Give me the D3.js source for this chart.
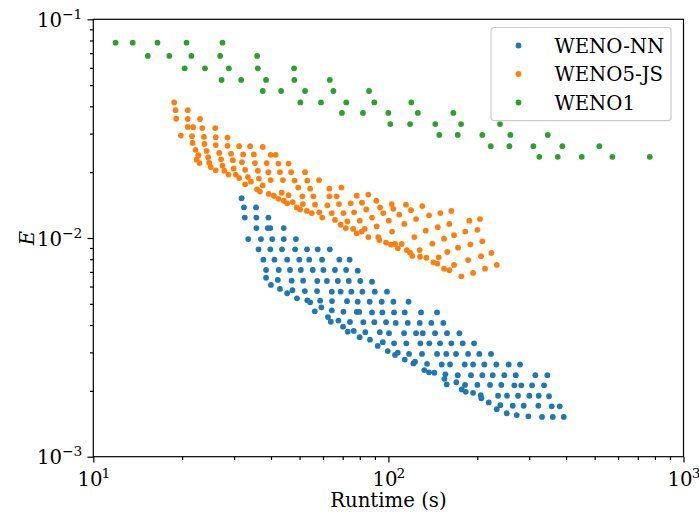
<!DOCTYPE html>
<html>
<head>
<meta charset="utf-8">
<script src="https://cdn.jsdelivr.net/npm/d3@7"></script>
<style>
  body { margin: 0; background: #fff; }
  text { font-family: "DejaVu Serif", serif; fill: #000; }
</style>
</head>
<body>
<div id="canvas"></div>
<script>
// [runtime (s), error E]
const wenoNN = [
  [31.8,0.0152],[32.4,0.0138],[35.6,0.0138],[32.6,0.0124],[35.7,0.0124],[39.2,0.0124],
  [35.7,0.0111],[39.0,0.0111],[39.8,0.0111],[44.2,0.0111],
  [33.5,0.00989],[37.0,0.00989],[40.4,0.00989],[44.2,0.00989],[48.6,0.00989],
  [36.3,0.00888],[39.8,0.00888],[43.6,0.00888],[48.3,0.00888],[53.0,0.00888],[57.6,0.00888],[63.3,0.00888],
  [37.7,0.00796],[41.1,0.00796],[45.4,0.00796],[49.9,0.00796],[53.9,0.00796],[59.6,0.00796],[68.2,0.00796],[73.9,0.00796],
  [38.5,0.00714],[42.5,0.00714],[46.4,0.00714],[50.5,0.00714],[55.4,0.00714],[60.2,0.00714],[65.9,0.00714],[71.9,0.00714],[78.7,0.00709],
  [38.5,0.00658],[42.2,0.00643],
  [47.0,0.00638],[51.4,0.00638],[57.4,0.00636],[61.9,0.00636],[67.4,0.00636],[73.4,0.00636],[80.3,0.00636],[88.0,0.00631],
  [40.0,0.00610],[42.9,0.00585],[45.4,0.00559],[47.3,0.00577],
  [52.1,0.00572],[57.3,0.00572],[64.3,0.00568],[68.9,0.00568],[74.9,0.00568],[81.6,0.00568],[89.9,0.00568],
  [49.0,0.00530],[53.1,0.00519],[54.3,0.00508],[58.7,0.00517],[64.4,0.00515],[72.4,0.00514],[78.7,0.00511],[86.4,0.00511],[94.9,0.00511],
  [56.3,0.00462],[59.3,0.00482],[64.3,0.00467],[70.4,0.00460],[78.1,0.00459],[79.7,0.00459],[88.0,0.00457],[95.4,0.00457],
  [62.4,0.00435],[63.8,0.00414],[67.7,0.00419],[74.1,0.00413],[82.2,0.00412],[89.6,0.00412],[98.2,0.00412],
  [70.2,0.00393],[72.8,0.00373],[76.3,0.00376],[83.5,0.00371],[93.5,0.00371],
  [79.9,0.00352],[86.6,0.00343],[95.7,0.00334],[92.0,0.00321],
  [98.9,0.00568],[104,0.00511],[117,0.00511],
  [104.5,0.00457],[113.6,0.00457],[129.0,0.00457],[146.2,0.00457],
  [105.9,0.00409],[116.3,0.00409],[127.7,0.00409],[139.8,0.00409],[153.5,0.00409],
  [100.5,0.00367],[113.0,0.00367],[124.1,0.00367],[130.7,0.00367],[143.9,0.00367],[158.0,0.00367],[174.0,0.00367],
  [104.5,0.00330],[115.0,0.00330],[128.3,0.00330],[137.6,0.00330],[149.6,0.00330],[163.4,0.00330],[178.6,0.00330],[195.1,0.00330],
  [99.5,0.00304],[105.3,0.00292],[107.6,0.00299],
  [117.5,0.00295],[130.0,0.00295],[146.2,0.00295],[157.1,0.00295],[169.5,0.00295],[186.2,0.00295],[203.3,0.00295],[222.7,0.00295],
  [113.6,0.00278],[121.5,0.00267],[123.1,0.00272],[135.2,0.00266],
  [151.6,0.00264],[161.8,0.00264],[181.4,0.00264],[193.6,0.00264],[211.4,0.00264],[232.2,0.00264],[255.7,0.00264],[279.3,0.00264],
  [132.3,0.00249],[137.3,0.00243],[143.1,0.00242],[156.0,0.00238],
  [171.8,0.00236],[190.5,0.00236],[208.1,0.00236],[225.7,0.00236],[247.1,0.00236],[270.1,0.00236],[314.8,0.00236],[345.6,0.00236],
  [154.8,0.00227],[157.6,0.00214],[169.9,0.00219],[181.8,0.00213],[177.2,0.00203],[182.8,0.00198],[193.6,0.00196],
  [200.2,0.00213],[221.0,0.00213],[241.3,0.00213],[267.2,0.00212],[282.1,0.00212],[306.8,0.00212],[336.9,0.00212],
  [205.6,0.00191],[206.5,0.00185],[218.8,0.00177],
  [235.3,0.00190],[252.4,0.00190],[275.0,0.00190],[300.4,0.00190],[323.2,0.00190],[350.2,0.00189],
  [232.9,0.00165],[239.5,0.00172],
  [263.8,0.00171],[287.4,0.00171],[322.2,0.00171],[357.6,0.00170],[380.7,0.00170],
  [251.8,0.00158],[272.2,0.00155],[298.0,0.00153],[331.6,0.00152],[360.6,0.00152],[392.8,0.00152]
];

const weno5JS = [
  [18.8,0.0417],[19.0,0.0384],[20.9,0.0384],[19.1,0.0351],[20.9,0.0350],[23.0,0.0350],
  [20.9,0.0322],[21.8,0.0321],[23.4,0.0318],[25.9,0.0318],
  [19.8,0.0294],[21.6,0.0292],[23.7,0.0290],[26.0,0.0289],[28.5,0.0288],
  [21.7,0.0272],[23.8,0.0269],[26.0,0.0266],[28.5,0.0264],[31.2,0.0263],[34.0,0.0263],[37.5,0.0261],
  [22.2,0.0253],[24.2,0.0250],[26.7,0.0245],[29.3,0.0243],[32.2,0.0241],[35.0,0.0241],[39.9,0.0240],[41.5,0.0240],
  [22.7,0.0239],[22.4,0.0228],[24.5,0.0234],[27.1,0.0229],[29.7,0.0227],[31.9,0.0222],[35.3,0.0220],[38.7,0.0220],[42.4,0.0219],[45.9,0.0219],
  [22.9,0.0220],[24.7,0.0221],[25.0,0.0211],[26.0,0.0204],[27.4,0.0214],[27.8,0.0203],[28.7,0.0195],[29.9,0.0208],[30.4,0.0195],[31.2,0.0188],
  [32.7,0.0205],[33.4,0.0190],[32.7,0.0176],[34.2,0.0181],[36.1,0.0203],[36.4,0.0187],[37.5,0.0174],[35.9,0.0167],[36.7,0.0163],
  [39.2,0.0200],[39.9,0.0184],[39.3,0.0159],[40.9,0.0156],
  [42.9,0.0200],[43.9,0.0184],[43.5,0.0161],[42.4,0.0151],[44.2,0.0148],[45.9,0.0157],
  [46.8,0.0200],[48.1,0.0183],[45.4,0.0144],[47.4,0.0146],[48.9,0.0138],[49.5,0.0170],[51.1,0.0155],
  [52.2,0.0200],[53.1,0.0183],[51.3,0.0143],[50.2,0.0135],[52.9,0.0133],[54.3,0.0168],[55.7,0.0155],[56.4,0.0142],[58.2,0.0184],
  [55.0,0.0130],[58.3,0.0131],[62.1,0.0141],[63.1,0.0168],[63.1,0.0155],[59.7,0.0124],
  [69.3,0.0170],[66.8,0.0155],[78.1,0.0156],[85.5,0.0158],
  [68.0,0.0143],[74.5,0.0144],[81.4,0.0145],[91.0,0.0148],[102.6,0.0143],[114.7,0.0142],[130.3,0.0140],
  [64.3,0.0130],[70.4,0.0130],[76.5,0.0131],[84.2,0.0135],[93.7,0.0138],[103.9,0.0136],[96.1,0.0130],[108.9,0.0128],[119.3,0.0134],[137.3,0.0127],[150.0,0.0130],[163.4,0.0133],
  [65.9,0.0121],[72.6,0.0119],[80.0,0.0120],[88.0,0.0124],[100.3,0.0120],[113.2,0.0116],[124.1,0.0122],[147.0,0.0112],[160.9,0.0116],[188.1,0.0120],[204.4,0.0122],
  [68.9,0.0115],[71.7,0.0111],[76.0,0.0110],[78.1,0.0105],[81.2,0.0107],[83.1,0.0110],[85.5,0.0101],[91.3,0.0113],[102.9,0.0107],[122.4,0.0101],[133.8,0.0108],[154.4,0.00993],[166.9,0.0103],[182.2,0.0107],[200.2,0.0109],
  [92.4,0.0101],[93.2,0.00979],[98.2,0.00952],[102.1,0.00932],[105.3,0.00939],[107.6,0.00897],[110.9,0.00939],[115.4,0.00881],[118.4,0.00857],[120.5,0.00828],[127.7,0.00881],[128.0,0.00821],[134.5,0.00813],[140.9,0.00942],[148.1,0.00816],
  [142.0,0.00774],[146.5,0.00763],[154.4,0.00724],[160.9,0.00712],[166.9,0.00753],[158.4,0.00863],[172.2,0.00903],[189.5,0.00936],[208.1,0.00966],
  [186.2,0.00793],[206.0,0.00825],[223.3,0.00854],[176.7,0.00668],[193.6,0.00692],[212.6,0.00724],[232.9,0.00753]
];

const weno1 = [
  [11.9,0.0782],[13.6,0.0782],[16.5,0.0782],[20.7,0.0782],[27.4,0.0782],
  [15.3,0.0680],[18.1,0.0680],[21.5,0.0680],[26.9,0.0680],[35.9,0.0680],
  [20.4,0.0597],[23.9,0.0597],[28.8,0.0597],[36.1,0.0597],[47.9,0.0597],
  [27.2,0.0528],[31.7,0.0528],[38.5,0.0528],[48.0,0.0528],[63.3,0.0528],
  [37.5,0.0470],[43.3,0.0470],[52.2,0.0470],[65.1,0.0470],[86.0,0.0470],
  [50.3,0.0417],[59.1,0.0417],[72.0,0.0417],[89.6,0.0417],[119.6,0.0417],
  [69.6,0.0373],[82.0,0.0373],[99.9,0.0373],[125.8,0.0373],[166.0,0.0373],
  [101.5,0.0332],[118.4,0.0332],[144.2,0.0332],[176.3,0.0332],[238.9,0.0332],
  [148.8,0.0296],[171.8,0.0296],[208.1,0.0296],[259.0,0.0296],[346.7,0.0296],
  [222.3,0.0263],[257.0,0.0263],[309.9,0.0263],[388.5,0.0263],[518.6,0.0263],
  [324.7,0.0235],[374.9,0.0235],[452.0,0.0235],[574.0,0.0235],[768.6,0.0235]
];

const seriesNames = ["WENO-NN", "WENO5-JS", "WENO1"];
const seriesColors = ["#1f77b4", "#ff7f0e", "#2ca02c"];
const xMajor = [10, 100, 1000];
const xTickLabels = [["10", "1"], ["10", "2"], ["10", "3"]];
const yMajor = [1e-3, 1e-2, 1e-1];
const yTickLabels = [["10", "\u22123"], ["10", "\u22122"], ["10", "\u22121"]];

const width = 699;
const height = 517;
const margin = { top: 19.3, left: 93.3, bottom: 60.3, right: 15.5 };
const iwidth = width - margin.left - margin.right;
const iheight = height - margin.top - margin.bottom;
const fontSize = 19.7;
const supSize = 13.8;

const svg = d3.select("#canvas").append("svg")
  .attr("width", width).attr("height", height)
  .attr("viewBox", [0, 0, width, height]);

const g = svg.append("g").attr("transform", `translate(${margin.left},${margin.top})`);

const x = d3.scaleLog().domain([10, 1000]).range([0, iwidth]);
const y = d3.scaleLog().domain([1e-3, 1e-1]).range([iheight, 0]);

const minorX = x.ticks().filter(v => !xMajor.includes(v));
const minorY = y.ticks().filter(v => !yMajor.some(m => Math.abs(m - v) / m < 1e-9));

// points
[wenoNN, weno5JS, weno1].forEach((data, i) => {
  g.append("g").selectAll("circle").data(data).enter()
    .append("circle")
    .attr("cx", d => x(d[0]))
    .attr("cy", d => y(d[1]))
    .attr("r", 2.9)
    .style("fill", seriesColors[i]);
});

// axes
function styleAxis(sel) {
  sel.select(".domain").remove();
  sel.selectAll("line").attr("stroke", "#000").attr("stroke-width", 1.2);
}

g.append("g").attr("transform", `translate(0,${iheight})`)
  .call(d3.axisBottom(x).tickValues(minorX).tickSize(3.3).tickFormat(""))
  .call(styleAxis);
g.append("g")
  .call(d3.axisLeft(y).tickValues(minorY).tickSize(3.3).tickFormat(""))
  .call(styleAxis);

const xAxis = g.append("g").attr("transform", `translate(0,${iheight})`)
  .call(d3.axisBottom(x).tickValues(xMajor).tickSize(5.8).tickFormat(""))
  .call(styleAxis);
xAxis.selectAll(".tick").append("text")
  .attr("y", 29)
  .attr("text-anchor", "middle")
  .style("font-size", fontSize + "px")
  .each(function(d, i) {
    const t = d3.select(this);
    t.append("tspan").text(xTickLabels[i][0]);
    t.append("tspan").attr("dy", -8).attr("dx", -1).style("font-size", supSize + "px").text(xTickLabels[i][1]);
  });

const yAxis = g.append("g")
  .call(d3.axisLeft(y).tickValues(yMajor).tickSize(5.8).tickFormat(""))
  .call(styleAxis);
yAxis.selectAll(".tick").append("text")
  .attr("x", -11)
  .attr("y", 7)
  .attr("text-anchor", "end")
  .style("font-size", fontSize + "px")
  .each(function(d, i) {
    const t = d3.select(this);
    t.append("tspan").text(yTickLabels[i][0]);
    t.append("tspan").attr("dy", -8).style("font-size", supSize + "px").text(yTickLabels[i][1]);
  });

// frame
g.append("rect")
  .attr("width", iwidth).attr("height", iheight)
  .attr("fill", "none").attr("stroke", "#000").attr("stroke-width", 1.2);

// axis labels
g.append("text")
  .attr("x", iwidth / 2).attr("y", iheight + 50.5)
  .attr("text-anchor", "middle")
  .style("font-size", fontSize + "px")
  .text("Runtime (s)");

svg.append("text")
  .attr("transform", `translate(33.5,${margin.top + iheight / 2}) rotate(-90)`)
  .attr("text-anchor", "middle")
  .style("font-size", fontSize + "px")
  .style("font-style", "italic")
  .text("E");

// legend
const legend = svg.append("g").attr("transform", "translate(491,27.5)");
legend.append("rect")
  .attr("width", 180).attr("height", 93.2)
  .attr("rx", 3).attr("ry", 3)
  .attr("fill", "#fff").attr("fill-opacity", 0.8)
  .attr("stroke", "#cccccc").attr("stroke-width", 1.2);
seriesNames.forEach((name, i) => {
  const row = legend.append("g").attr("transform", `translate(0,${18 + i * 28.5})`);
  row.append("circle").attr("cx", 27.5).attr("cy", 0).attr("r", 2.9).style("fill", seriesColors[i]);
  row.append("text").attr("x", 63.5).attr("y", 7).style("font-size", fontSize + "px").text(name);
});
</script>
</body>
</html>
